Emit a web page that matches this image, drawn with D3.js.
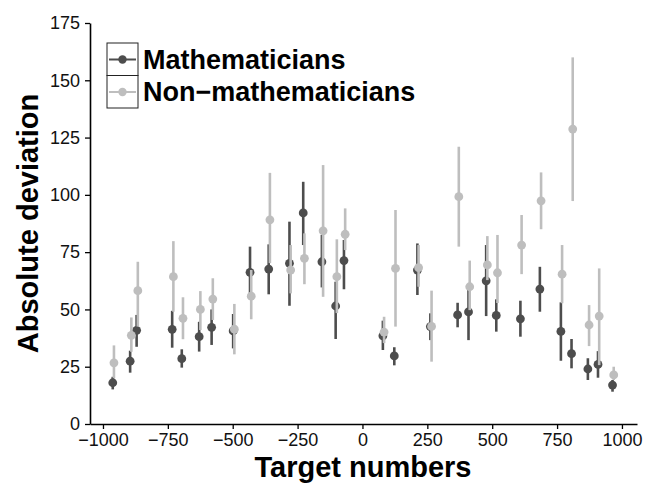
<!DOCTYPE html>
<html>
<head>
<meta charset="utf-8">
<script src="https://cdn.jsdelivr.net/npm/d3@7"></script>
<style>
  body { margin: 0; background: #fff; }
  svg { font-family: "Liberation Sans", Arial, sans-serif; }
</style>
</head>
<body>
<svg id="chart" width="646" height="485"></svg>
<script>
// target numbers (x)
var targets = [-960, -893, -868, -731, -694, -627, -579, -496, -431, -359, -279, -226, -154, -101, -69,
               81, 125, 214, 264, 369, 411, 479, 518, 611, 686, 767, 808, 871, 910, 966];

// mathematicians: mean and interval
var mathMean = [18.0, 27.4, 40.9, 41.3, 28.5, 38.1, 42.2, 40.6, 66.2, 67.6, 70.1, 92.1, 70.8, 51.5, 71.3,
                38.5, 29.7, 67.2, 42.5, 47.6, 48.9, 62.5, 47.4, 45.9, 58.9, 40.4, 30.7, 24.0, 26.0, 17.0];
var mathLo = [15.1, 22.4, 33.7, 33.3, 24.6, 31.6, 34.5, 33.0, 56.0, 56.6, 51.6, 78.1, 59.6, 37.1, 58.8,
              32.3, 25.6, 56.3, 36.6, 42.2, 36.6, 47.1, 40.3, 38.1, 49.0, 27.6, 24.3, 19.2, 20.2, 14.1];
var mathHi = [20.6, 32.0, 47.6, 49.4, 32.6, 44.6, 50.0, 48.0, 77.4, 78.4, 88.3, 105.7, 82.5, 62.1, 80.3,
              45.1, 33.5, 78.8, 48.3, 52.9, 59.9, 78.1, 54.4, 53.8, 68.6, 53.1, 37.1, 28.7, 31.8, 19.2];

// non-mathematicians
var nonMean = [26.7, 38.7, 58.2, 64.3, 46.1, 50.0, 54.5, 41.4, 55.8, 89.1, 67.2, 72.3, 84.3, 64.3, 82.8,
               40.1, 67.9, 68.2, 42.6, 99.2, 59.9, 69.4, 66.0, 78.1, 97.4, 65.4, 128.7, 43.2, 47.1, 21.4];
var nonLo = [20.0, 31.5, 42.5, 49.0, 37.0, 41.0, 45.4, 30.4, 45.7, 70.2, 57.0, 61.0, 55.5, 48.4, 75.9,
             35.3, 42.5, 59.9, 27.2, 77.4, 49.7, 62.8, 52.8, 65.4, 85.0, 52.7, 97.3, 34.0, 25.7, 19.2];
var nonHi = [34.3, 46.5, 70.8, 79.8, 55.3, 58.0, 63.6, 52.4, 67.2, 109.6, 78.1, 83.2, 113.0, 80.6, 94.1,
             46.8, 93.4, 78.1, 58.2, 121.0, 71.3, 82.0, 82.5, 91.2, 109.8, 78.1, 160.0, 51.9, 67.9, 25.0];

var xTicks = [-1000, -750, -500, -250, 0, 250, 500, 750, 1000];
var yTicks = [0, 25, 50, 75, 100, 125, 150, 175];
var seriesNames = ['Mathematicians', 'Non\u2212mathematicians'];
var colors = ['#4d4d4d', '#bebebe'];

var svg = d3.select('#chart');

var x = d3.scaleLinear().domain([-1050, 1058]).range([90, 637]);
var y = d3.scaleLinear().domain([0, 175]).range([424, 23]);

// axes
var xAxis = svg.append('g')
    .attr('transform', 'translate(0,' + y(0) + ')')
    .call(d3.axisBottom(x).tickValues(xTicks).tickSizeInner(5).tickSizeOuter(0)
        .tickFormat(function(d) { return d < 0 ? '\u2212' + Math.abs(d) : d; }));
var yAxis = svg.append('g')
    .attr('transform', 'translate(' + x.range()[0] + ',0)')
    .call(d3.axisLeft(y).tickValues(yTicks).tickSizeInner(5).tickSizeOuter(0));

[xAxis, yAxis].forEach(function(g) {
    g.select('.domain').attr('stroke', '#000').attr('stroke-width', 1.6);
    g.selectAll('.tick line').attr('stroke', '#000').attr('stroke-width', 1.3);
    g.selectAll('.tick text').attr('fill', '#111').style('font-size', '18px');
});
xAxis.selectAll('.tick text').attr('dy', '0.71em').attr('y', 9);
yAxis.selectAll('.tick text').attr('x', -10);

// titles
svg.append('text')
    .attr('x', 363).attr('y', 477)
    .attr('text-anchor', 'middle')
    .style('font-size', '29px').style('font-weight', 'bold')
    .text('Target numbers');
svg.append('text')
    .attr('transform', 'translate(38,' + ((y(0) + y(175)) / 2) + ') rotate(-90)')
    .attr('text-anchor', 'middle')
    .style('font-size', '29px').style('font-weight', 'bold')
    .text('Absolute deviation');

// series drawing
var series = [
    { mean: mathMean, lo: mathLo, hi: mathHi, dodge: -0.6 },
    { mean: nonMean, lo: nonLo, hi: nonHi, dodge: 0.6 }
];

series.forEach(function(s, si) {
    var g = svg.append('g');
    var rows = targets.map(function(t, i) {
        return { t: t, m: s.mean[i], lo: s.lo[i], hi: s.hi[i] };
    });
    g.selectAll('line').data(rows).enter().append('line')
        .attr('x1', function(d) { return x(d.t) + s.dodge; })
        .attr('x2', function(d) { return x(d.t) + s.dodge; })
        .attr('y1', function(d) { return y(d.lo); })
        .attr('y2', function(d) { return y(d.hi); })
        .attr('stroke', colors[si])
        .attr('stroke-width', 2.6);
    g.selectAll('circle').data(rows).enter().append('circle')
        .attr('cx', function(d) { return x(d.t) + s.dodge; })
        .attr('cy', function(d) { return y(d.m); })
        .attr('r', 4.4)
        .attr('fill', colors[si]);
});

// legend
var leg = svg.append('g').attr('transform', 'translate(107,43)');
seriesNames.forEach(function(name, i) {
    var row = leg.append('g').attr('transform', 'translate(0,' + (i * 32.5) + ')');
    row.append('rect')
        .attr('width', 31).attr('height', 32.5)
        .attr('fill', '#fff').attr('stroke', '#222').attr('stroke-width', 1);
    row.append('line')
        .attr('x1', 2).attr('x2', 29).attr('y1', 16.5).attr('y2', 16.5)
        .attr('stroke', colors[i]).attr('stroke-width', 2);
    row.append('circle')
        .attr('cx', 15.5).attr('cy', 16.5).attr('r', 4.2)
        .attr('fill', colors[i]);
    row.append('text')
        .attr('x', 36).attr('y', 25.5)
        .style('font-size', '27px').style('font-weight', 'bold')
        .text(name);
});
</script>
</body>
</html>
